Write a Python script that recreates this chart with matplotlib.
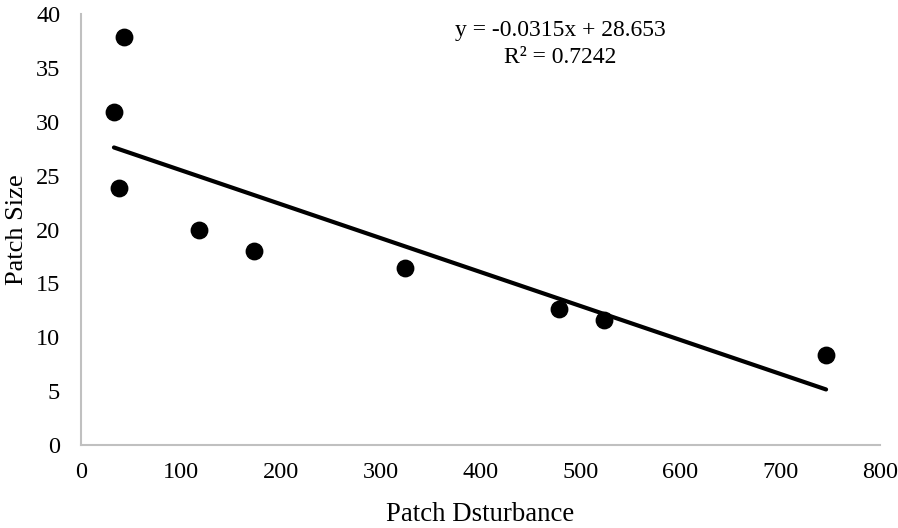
import matplotlib
matplotlib.use("Agg")
import matplotlib.pyplot as plt
import numpy as np

disturbance = [33, 43, 38, 118, 173, 324, 479, 524, 746]
patch_size = [30.9, 37.9, 23.85, 20.0, 18.0, 16.4, 12.6, 11.6, 8.35]
slope = -0.0315
intercept = 28.653
eq_text = "y = -0.0315x + 28.653"
r2_text = "R² = 0.7242"

plt.rcParams['font.family'] = ['Liberation Serif', 'DejaVu Serif']

fig = plt.figure(figsize=(8.98, 5.28), dpi=100)
ax = fig.add_axes([81/898, 1-445/528, (880-81)/898, (445-14)/528])
ax.scatter(disturbance, patch_size, s=140, color='black', zorder=3)
xs = np.array([min(disturbance), max(disturbance)])
ax.plot(xs, slope*xs + intercept, color='black', lw=3, solid_capstyle='round')

ax.set_xlim(0, 800)
ax.set_ylim(0, 40)
ax.set_xticks(range(0, 801, 100))
ax.set_yticks(range(0, 41, 5))
ax.tick_params(length=0, labelsize=17.5)
ax.tick_params(axis='x', pad=12)
ax.tick_params(axis='y', pad=15)
for s in ['top', 'right']:
    ax.spines[s].set_visible(False)
for s in ['left', 'bottom']:
    ax.spines[s].set_color('#c0c0c0')
    ax.spines[s].set_linewidth(1.5)
ax.set_xlabel("Patch Dsturbance", fontsize=19.3, labelpad=14)
ax.set_ylabel("Patch Size", fontsize=19)
ax.yaxis.set_label_coords(-0.066, 0.5)
ax.text(480, 38.5, eq_text, fontsize=17, ha='center', va='center')
ax.text(480, 36.0, r2_text, fontsize=17, ha='center', va='center')

fig.savefig("out.png", dpi=100)
